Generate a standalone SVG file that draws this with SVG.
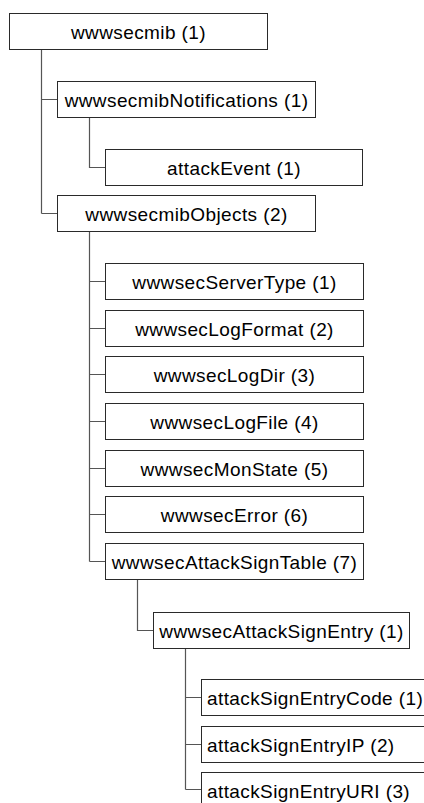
<svg xmlns="http://www.w3.org/2000/svg" width="424" height="803" viewBox="0 0 424 803">
  <style>
    .box { fill: #ffffff; stroke: #2a2a2a; stroke-width: 1; }
    .wire { fill: none; stroke: #555555; stroke-width: 1.2; }
    .lbl { font-family: "Liberation Sans", Arial, Helvetica, sans-serif; font-size: 19px; letter-spacing: 0.4px; fill: #000000; text-anchor: middle; }
    .lbl.left { text-anchor: start; }
  </style>
  <rect width="424" height="803" fill="#ffffff"/>

  <!-- tree connectors -->
  <g id="connectors">
    <path class="wire" d="M41.5 49.5 V213.5 M41.5 99.5 H57.5 M41.5 213.5 H57.5"/>
    <path class="wire" d="M89.5 117.5 V167.5 H105.5"/>
    <path class="wire" d="M89.5 231.5 V561.5 M89.5 281.5 H105.5 M89.5 328.5 H105.5 M89.5 374.5 H105.5 M89.5 421.5 H105.5 M89.5 468.5 H105.5 M89.5 514.5 H105.5 M89.5 561.5 H105.5"/>
    <path class="wire" d="M137.5 579.5 V630.5 H153.5"/>
    <path class="wire" d="M185.5 648.5 V789.5 M185.5 697.5 H201.5 M185.5 744.5 H201.5 M185.5 789.5 H201.5"/>
  </g>

  <g id="wwwsecmib">
    <rect class="box" x="9.5" y="13.5" width="258" height="36"/>
    <text class="lbl" x="138.5" y="38.5">wwwsecmib (1)</text>
  </g>

  <g id="wwwsecmibNotifications">
    <rect class="box" x="57.5" y="81.5" width="258" height="36"/>
    <text class="lbl" x="186.5" y="106.5">wwwsecmibNotifications (1)</text>
  </g>

  <g id="attackEvent">
    <rect class="box" x="105.5" y="149.5" width="257" height="36"/>
    <text class="lbl" x="234" y="174.5">attackEvent (1)</text>
  </g>

  <g id="wwwsecmibObjects">
    <rect class="box" x="57.5" y="195.5" width="258" height="36"/>
    <text class="lbl" x="186.5" y="220.5">wwwsecmibObjects (2)</text>
  </g>

  <g id="wwwsecServerType">
    <rect class="box" x="105.5" y="263.5" width="258" height="36"/>
    <text class="lbl" x="234.5" y="288.5">wwwsecServerType (1)</text>
  </g>

  <g id="wwwsecLogFormat">
    <rect class="box" x="105.5" y="310.5" width="258" height="36"/>
    <text class="lbl" x="234.5" y="335.5">wwwsecLogFormat (2)</text>
  </g>

  <g id="wwwsecLogDir">
    <rect class="box" x="105.5" y="356.5" width="258" height="36"/>
    <text class="lbl" x="234.5" y="381.5">wwwsecLogDir (3)</text>
  </g>

  <g id="wwwsecLogFile">
    <rect class="box" x="105.5" y="403.5" width="258" height="36"/>
    <text class="lbl" x="234.5" y="428.5">wwwsecLogFile (4)</text>
  </g>

  <g id="wwwsecMonState">
    <rect class="box" x="105.5" y="450.5" width="258" height="36"/>
    <text class="lbl" x="234.5" y="475.5">wwwsecMonState (5)</text>
  </g>

  <g id="wwwsecError">
    <rect class="box" x="105.5" y="496.5" width="258" height="36"/>
    <text class="lbl" x="234.5" y="521.5">wwwsecError (6)</text>
  </g>

  <g id="wwwsecAttackSignTable">
    <rect class="box" x="105.5" y="543.5" width="258" height="36"/>
    <text class="lbl" x="234.5" y="568.5">wwwsecAttackSignTable (7)</text>
  </g>

  <g id="wwwsecAttackSignEntry">
    <rect class="box" x="153.5" y="612.5" width="256" height="36"/>
    <text class="lbl" x="281.5" y="637.5">wwwsecAttackSignEntry (1)</text>
  </g>

  <g id="attackSignEntryCode">
    <rect class="box" x="201.5" y="679.5" width="258" height="36"/>
    <text class="lbl left" x="207" y="704.5">attackSignEntryCode (1)</text>
  </g>

  <g id="attackSignEntryIP">
    <rect class="box" x="201.5" y="726.5" width="258" height="36"/>
    <text class="lbl left" x="207" y="751.5">attackSignEntryIP (2)</text>
  </g>

  <g id="attackSignEntryURI">
    <rect class="box" x="201.5" y="772.5" width="258" height="36"/>
    <text class="lbl left" x="207" y="797.5">attackSignEntryURI (3)</text>
  </g>
</svg>
